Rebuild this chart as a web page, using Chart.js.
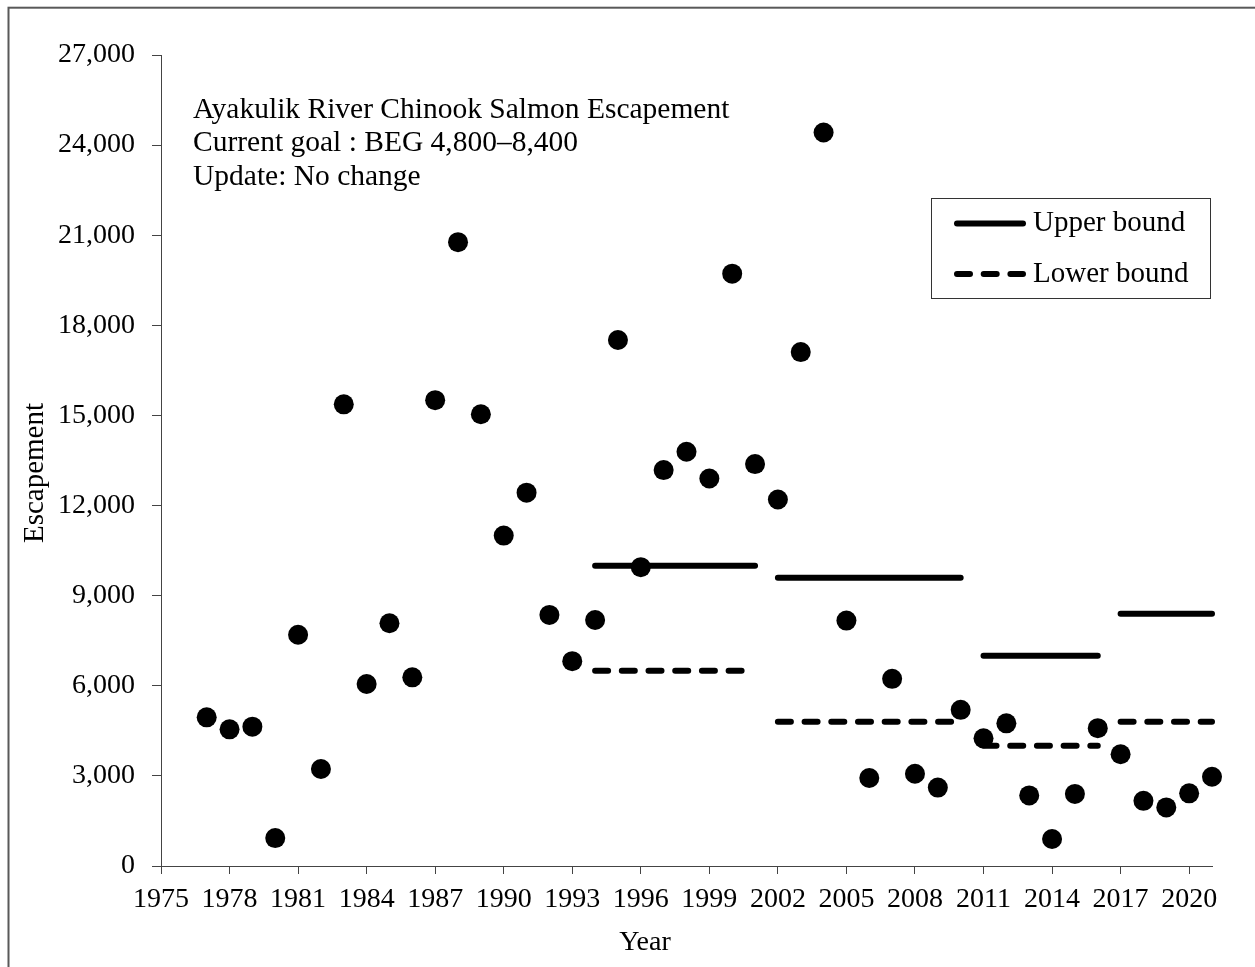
<!DOCTYPE html>
<html>
<head>
<meta charset="utf-8">
<title>Ayakulik River Chinook Salmon Escapement</title>
<script src="https://cdn.jsdelivr.net/npm/chart.js@4.4.1/dist/chart.umd.min.js"></script>
<style>
  body { margin: 0; background: #fff; }
  canvas { display: block; }
</style>
</head>
<body>
<canvas id="escapement-chart" width="1255" height="967"></canvas>
<script>
// Yearly escapement counts
const years = [
  1977, 1978, 1979, 1980, 1981, 1982, 1983, 1984, 1985, 1986,
  1987, 1988, 1989, 1990, 1991, 1992, 1993, 1994, 1995, 1996,
  1997, 1998, 1999, 2000, 2001, 2002, 2003, 2004, 2005, 2006,
  2007, 2008, 2009, 2010, 2011, 2012, 2013, 2014, 2015, 2016,
  2017, 2018, 2019, 2020, 2021,
];
const escapement = [
  4950, 4550, 4640, 930, 7700, 3230, 15370, 6060, 8080, 6280,
  15510, 20770, 15040, 11000, 12430, 8360, 6820, 8190, 17510, 9950,
  13180, 13790, 12900, 19720, 13380, 12200, 17110, 24420, 8170, 2930,
  6230, 3070, 2610, 5200, 4250, 4750, 2350, 900, 2400, 4590,
  3720, 2170, 1950, 2420, 2970,
];

// Goal ranges (one entry per goal period)
const goalStart = [1994, 2002, 2011, 2017];
const goalEnd = [2001, 2010, 2016, 2021];
const upperBound = [10000, 9600, 7000, 8400];
const lowerBound = [6500, 4800, 4000, 4800];

// Axis ticks and text
const yearTicks = [
  1975, 1978, 1981, 1984, 1987, 1990, 1993, 1996,
  1999, 2002, 2005, 2008, 2011, 2014, 2017, 2020,
];
const noteLines = [
  "Ayakulik River Chinook Salmon Escapement",
  "Current goal : BEG 4,800\u20138,400",
  "Update: No change",
];
const legendLabels = ["Upper bound", "Lower bound"];
const xTitle = "Year";
const yTitle = "Escapement";

const fontFamily = "'Liberation Serif', 'Times New Roman', serif";
const tickFont = { family: fontFamily, size: 28 };
const boundDash = [13, 13.7];

// Turn goal periods into line pieces with gaps between them
function boundPoints(values) {
  const points = [];
  values.forEach((v, i) => {
    points.push({ x: goalStart[i], y: v });
    points.push({ x: goalEnd[i], y: v });
    points.push({ x: goalEnd[i], y: null });
  });
  return points;
}

// White page with outer frame
const framePlugin = {
  id: "frame",
  beforeDraw(chart) {
    const ctx = chart.ctx;
    ctx.save();
    ctx.fillStyle = "#fff";
    ctx.fillRect(0, 0, chart.width, chart.height);
    ctx.strokeStyle = "#595959";
    ctx.lineWidth = 2;
    ctx.strokeRect(8.5, 7.7, chart.width + 40, chart.height + 40);
    ctx.restore();
  },
};

// Axis titles, note text and legend box
const notesPlugin = {
  id: "notes",
  afterDraw(chart) {
    const ctx = chart.ctx;
    ctx.save();
    ctx.fillStyle = "#000";

    // axis titles
    ctx.textAlign = "center";
    ctx.textBaseline = "middle";
    ctx.font = "28px " + fontFamily;
    ctx.fillText(xTitle, 645, 943);
    ctx.save();
    ctx.translate(35, 473);
    ctx.rotate(-Math.PI / 2);
    ctx.font = "29px " + fontFamily;
    ctx.fillText(yTitle, 0, 0);
    ctx.restore();

    // note lines
    ctx.font = "29.5px " + fontFamily;
    ctx.textBaseline = "alphabetic";
    ctx.textAlign = "left";
    noteLines.forEach((line, i) => {
      ctx.fillText(line, 193, 117.5 + i * 33.5);
    });

    // legend
    ctx.font = "29px " + fontFamily;
    ctx.strokeStyle = "#333";
    ctx.lineWidth = 1;
    ctx.strokeRect(931.5, 198.5, 279, 100);
    const rows = [223.5, 274];
    rows.forEach((y, i) => {
      const ds = chart.data.datasets[i + 1];
      ctx.beginPath();
      ctx.setLineDash(ds.borderDash || []);
      ctx.lineCap = "round";
      ctx.lineWidth = ds.borderWidth;
      ctx.strokeStyle = ds.borderColor;
      ctx.moveTo(957, y);
      ctx.lineTo(1023, y);
      ctx.stroke();
      ctx.setLineDash([]);
      ctx.textBaseline = "middle";
      ctx.fillText(legendLabels[i], 1033, y);
    });
    ctx.restore();
  },
};

const ctx = document.getElementById("escapement-chart");

new Chart(ctx, {
  type: "scatter",
  data: {
    datasets: [
      {
        label: "Escapement",
        data: years.map((yr, i) => ({ x: yr, y: escapement[i] })),
        backgroundColor: "#000",
        borderWidth: 0,
        pointRadius: 10,
        clip: false,
      },
      {
        label: legendLabels[0],
        type: "line",
        data: boundPoints(upperBound),
        showLine: true,
        spanGaps: false,
        borderColor: "#000",
        borderWidth: 6,
        borderCapStyle: "round",
        pointRadius: 0,
        clip: false,
      },
      {
        label: legendLabels[1],
        type: "line",
        data: boundPoints(lowerBound),
        showLine: true,
        spanGaps: false,
        borderColor: "#000",
        borderWidth: 6,
        borderDash: boundDash,
        borderCapStyle: "round",
        pointRadius: 0,
        clip: false,
      },
    ],
  },
  options: {
    responsive: false,
    animation: false,
    layout: { padding: { top: 55, right: 43, left: 0, bottom: 0 } },
    plugins: {
      legend: { display: false },
      tooltip: { enabled: false },
    },
    scales: {
      x: {
        type: "linear",
        min: 1975,
        max: 2021,
        afterBuildTicks: (scale) => {
          scale.ticks = yearTicks.map((v) => ({ value: v }));
        },
        afterFit: (scale) => {
          scale.height = 101;
        },
        border: { color: "#444", width: 1 },
        grid: { drawOnChartArea: false, tickLength: 8, color: "#444" },
        ticks: {
          color: "#000",
          font: tickFont,
          padding: 9,
          maxRotation: 0,
          autoSkip: false,
          callback: (v) => String(v),
        },
      },
      y: {
        min: 0,
        max: 27000,
        afterFit: (scale) => {
          scale.width = 161;
        },
        border: { color: "#444", width: 1 },
        grid: { drawOnChartArea: false, tickLength: 9, color: "#444" },
        ticks: {
          stepSize: 3000,
          color: "#000",
          font: tickFont,
          padding: 17,
          callback: (v) => v.toLocaleString("en-US"),
        },
      },
    },
  },
  plugins: [framePlugin, notesPlugin],
});
</script>
</body>
</html>
